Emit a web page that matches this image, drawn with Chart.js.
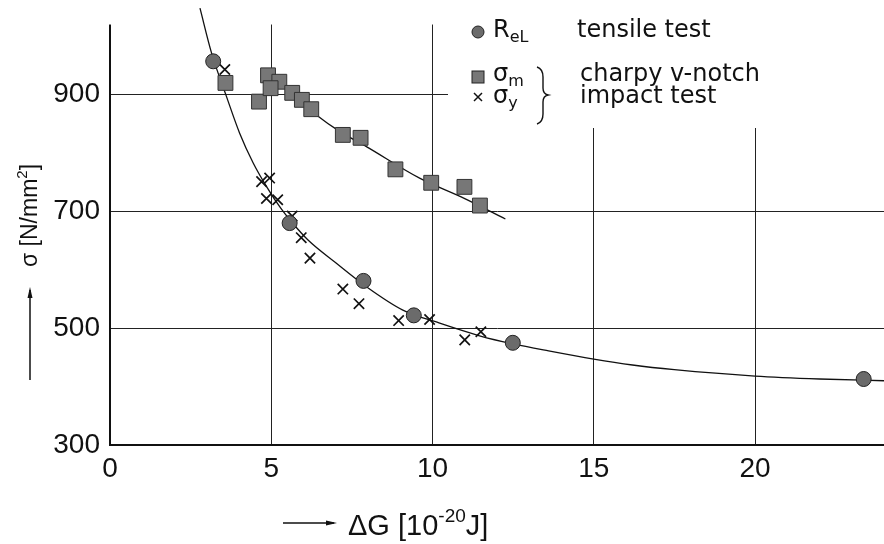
<!DOCTYPE html>
<html>
<head>
<meta charset="utf-8">
<script src="https://cdn.jsdelivr.net/npm/chart.js@4.4.1/dist/chart.umd.min.js"></script>
<style>
  html, body { margin: 0; padding: 0; background: #fff; }
  canvas { display: block; }
</style>
</head>
<body>
<canvas id="chart" width="884" height="544"></canvas>
<script>
// R_eL, tensile test
var relX = [3.2, 5.57, 7.86, 9.42, 12.49, 23.37];
var relY = [957, 680, 581, 522, 475, 413];

// sigma_m, charpy v-notch impact test
var smX = [3.58, 4.62, 4.9, 5.25, 4.98, 5.65, 5.95, 6.24, 7.22, 7.77, 8.85, 9.96, 10.99, 11.47];
var smY = [920, 888, 933, 922, 911, 903, 891, 875, 831, 826, 772, 749, 742, 710];

// sigma_y, charpy v-notch impact test
var syX = [3.56, 4.7, 4.95, 4.85, 5.2, 5.65, 5.93, 6.2, 7.22, 7.72, 8.95, 9.91, 11.0, 11.5];
var syY = [943, 751, 757, 722, 720, 692, 655, 620, 567, 542, 513, 515, 480, 494];

// fitted curve through the tensile values
var fitTX = [2.79, 3.15, 3.61, 4.02, 4.44, 4.85, 5.3, 5.6, 6.14, 7.0, 7.95, 9.08, 10.2, 11.46, 12.5, 13.6, 15, 16.2, 17.5, 20, 22, 24];
var fitTY = [1048, 971, 897, 834, 783, 743, 705, 684, 651, 612, 571, 531, 509, 487, 473, 461, 447, 437, 429, 418, 413, 410];

// fitted line through the sigma_m values
var fitMX = [5.1, 6.4, 7.12, 7.95, 9.6, 11.0, 12.26];
var fitMY = [928, 865, 837, 811, 757, 722, 687];

var xTicks = [0, 5, 10, 15, 20];
var yTicks = [300, 500, 700, 900];

function pts(xs, ys) {
  return xs.map(function(x, i) { return { x: x, y: ys[i] }; });
}

var numFont = '"Liberation Sans", Arial, sans-serif';
var textFont = '"DejaVu Sans", sans-serif';
var ink = '#111';

// text with sub/superscript parts, left aligned at x, middle at y
function richText(ctx, parts, x, y, size, family) {
  var cx = x;
  parts.forEach(function(p) {
    var s = p.sup || p.sub ? Math.round(size * 0.66) : size;
    ctx.font = s + 'px ' + family;
    var dy = p.sup ? -size * 0.36 : (p.sub ? size * 0.3 : 0);
    ctx.fillText(p.t, cx, y + dy);
    cx += ctx.measureText(p.t).width;
  });
  return cx - x;
}

function arrow(ctx, x1, y1, x2, y2) {
  var a = Math.atan2(y2 - y1, x2 - x1);
  ctx.beginPath();
  ctx.moveTo(x1, y1);
  ctx.lineTo(x2, y2);
  ctx.lineWidth = 1.5;
  ctx.stroke();
  ctx.beginPath();
  ctx.moveTo(x2 + Math.cos(a) * 3, y2 + Math.sin(a) * 3);
  ctx.lineTo(x2 - Math.cos(a) * 8 + Math.sin(a) * 2.5, y2 - Math.sin(a) * 8 - Math.cos(a) * 2.5);
  ctx.lineTo(x2 - Math.cos(a) * 8 - Math.sin(a) * 2.5, y2 - Math.sin(a) * 8 + Math.cos(a) * 2.5);
  ctx.closePath();
  ctx.fill();
}

// white patches: top of the frame and behind the legend
var maskPlugin = {
  id: 'mask',
  beforeDatasetsDraw: function(chart) {
    var ctx = chart.ctx, a = chart.chartArea;
    var top = chart.scales.y.getPixelForValue(1020);
    ctx.save();
    ctx.fillStyle = '#fff';
    ctx.fillRect(a.left - 3, 0, a.right - a.left + 3, top);
    ctx.fillRect(448, 0, a.right - 448, 128);
    ctx.restore();
  }
};

var notesPlugin = {
  id: 'notes',
  afterDraw: function(chart) {
    var ctx = chart.ctx;
    ctx.save();
    ctx.fillStyle = ink;
    ctx.strokeStyle = ink;
    ctx.textBaseline = 'middle';
    ctx.textAlign = 'left';

    // x axis title
    arrow(ctx, 283, 523, 334, 523);
    richText(ctx, [{ t: 'ΔG [10' }, { t: '-20', sup: true }, { t: 'J]' }], 348, 527, 29, numFont);

    // y axis title
    arrow(ctx, 30, 380, 30, 290);
    ctx.save();
    ctx.translate(31, 267);
    ctx.rotate(-Math.PI / 2);
    richText(ctx, [{ t: 'σ [N/mm' }, { t: '2', sup: true }, { t: ']' }], 0, 0, 23, numFont);
    ctx.restore();

    // legend markers
    ctx.fillStyle = '#6b6b6b';
    ctx.strokeStyle = '#222';
    ctx.lineWidth = 1;
    ctx.beginPath();
    ctx.arc(478, 32, 6, 0, Math.PI * 2);
    ctx.fill();
    ctx.stroke();
    ctx.fillStyle = '#777';
    ctx.fillRect(472, 71, 12, 12);
    ctx.strokeRect(472, 71, 12, 12);
    ctx.strokeStyle = ink;
    ctx.lineWidth = 1.5;
    ctx.beginPath();
    ctx.moveTo(474, 93); ctx.lineTo(482, 101);
    ctx.moveTo(482, 93); ctx.lineTo(474, 101);
    ctx.stroke();

    // legend symbols
    ctx.fillStyle = ink;
    richText(ctx, [{ t: 'R' }, { t: 'eL', sub: true }], 493, 31, 24, textFont);
    richText(ctx, [{ t: 'σ' }, { t: 'm', sub: true }], 493, 75, 24, textFont);
    richText(ctx, [{ t: 'σ' }, { t: 'y', sub: true }], 493, 97, 24, textFont);

    // brace grouping sigma_m and sigma_y
    ctx.lineWidth = 1.4;
    ctx.beginPath();
    ctx.moveTo(537, 67);
    ctx.quadraticCurveTo(543, 69, 543, 77);
    ctx.lineTo(543, 88);
    ctx.quadraticCurveTo(543, 94, 548, 95);
    ctx.quadraticCurveTo(543, 96, 543, 102);
    ctx.lineTo(543, 114);
    ctx.quadraticCurveTo(543, 122, 537, 124);
    ctx.stroke();

    // legend descriptions
    ctx.font = '24px ' + textFont;
    ctx.fillText('tensile test', 577, 31);
    ctx.fillText('charpy v-notch', 580, 75);
    ctx.fillText('impact test', 580, 97);
    ctx.restore();
  }
};

new Chart(document.getElementById('chart'), {
  type: 'scatter',
  data: {
    datasets: [
      {
        label: 'R_eL tensile test',
        data: pts(relX, relY),
        pointStyle: 'circle',
        pointRadius: 7.5,
        backgroundColor: '#6b6b6b',
        borderColor: '#222',
        borderWidth: 1,
        order: 1
      },
      {
        label: 'sigma_m',
        data: pts(smX, smY),
        pointStyle: 'rect',
        pointRadius: 10.5,
        backgroundColor: '#777',
        borderColor: '#333',
        borderWidth: 1,
        order: 1
      },
      {
        label: 'sigma_y',
        data: pts(syX, syY),
        pointStyle: 'crossRot',
        pointRadius: 7.3,
        borderColor: ink,
        borderWidth: 1.7,
        order: 1
      },
      {
        label: 'fit tensile',
        data: pts(fitTX, fitTY),
        showLine: true,
        pointRadius: 0,
        borderColor: ink,
        borderWidth: 1.3,
        cubicInterpolationMode: 'monotone',
        order: 2
      },
      {
        label: 'fit sigma_m',
        data: pts(fitMX, fitMY),
        showLine: true,
        pointRadius: 0,
        borderColor: ink,
        borderWidth: 1.3,
        cubicInterpolationMode: 'monotone',
        order: 2
      }
    ]
  },
  options: {
    responsive: false,
    animation: false,
    devicePixelRatio: 1,
    layout: { padding: { top: 7, right: 0, left: 0, bottom: 0 }, autoPadding: false },
    plugins: {
      legend: { display: false },
      tooltip: { enabled: false }
    },
    scales: {
      x: {
        type: 'linear',
        min: 0,
        max: 24,
        afterBuildTicks: function(s) { s.ticks = xTicks.map(function(v) { return { value: v }; }); },
        afterFit: function(s) { s.height = 99; s.paddingRight = 0; },
        ticks: { font: { size: 28, family: numFont }, color: ink, padding: 7, maxRotation: 0, autoSkip: false },
        grid: { color: '#222', lineWidth: 1, drawTicks: false },
        border: { display: true, color: ink, width: 2 }
      },
      y: {
        type: 'linear',
        min: 300,
        max: 1050,
        afterBuildTicks: function(s) { s.ticks = yTicks.map(function(v) { return { value: v }; }); },
        afterFit: function(s) { s.width = 110; s.paddingTop = 0; s.paddingBottom = 0; },
        ticks: { font: { size: 28, family: numFont }, color: ink, padding: 10 },
        grid: { color: '#222', lineWidth: 1, drawTicks: false },
        border: { display: true, color: ink, width: 2 }
      }
    }
  },
  plugins: [maskPlugin, notesPlugin]
});
</script>
</body>
</html>
